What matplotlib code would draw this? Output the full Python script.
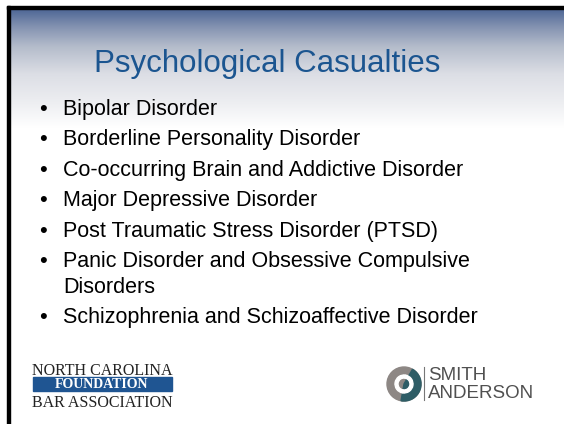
import matplotlib
matplotlib.use("Agg")
import matplotlib.pyplot as plt
import numpy as np
from matplotlib.patches import Rectangle, Wedge, Circle
from matplotlib.colors import LinearSegmentedColormap

title = "Psychological Casualties"
bullets = [
    ["Bipolar Disorder"],
    ["Borderline Personality Disorder"],
    ["Co-occurring Brain and Addictive Disorder"],
    ["Major Depressive Disorder"],
    ["Post Traumatic Stress Disorder (PTSD)"],
    ["Panic Disorder and Obsessive Compulsive", "Disorders"],
    ["Schizophrenia and Schizoaffective Disorder"],
]
nc_logo = ["NORTH CAROLINA", "FOUNDATION", "BAR ASSOCIATION"]
sa_logo = ["SMITH", "ANDERSON"]

W, H = 564, 424
fig = plt.figure(figsize=(W / 100, H / 100), dpi=100)
ax = fig.add_axes([0, 0, 1, 1])
ax.set_xlim(0, W)
ax.set_ylim(H, 0)
ax.axis("off")

# header gradient
cmap = LinearSegmentedColormap.from_list(
    "hdr", [(0, "#4a6494"), (0.15, "#8291b0"), (0.32, "#b4bccb"),
            (0.55, "#dcdee5"), (0.8, "#eeeff2"), (1, "#ffffff")])
grad = np.linspace(0, 1, 256).reshape(-1, 1)
ax.imshow(grad, cmap=cmap, extent=(9, W, 128, 8), aspect="auto", zorder=0)

# slide border (top and left)
ax.add_patch(Rectangle((7, 6), W - 7, 3, color="black", zorder=3))
ax.add_patch(Rectangle((7, 6), 3, H - 6, color="black", zorder=3))

ax.text(267.5, 72, title, fontsize=22.5, color="#1b5590", ha="center", va="baseline",
        family="Liberation Sans")

y = 115
for item in bullets:
    ax.text(43, y, "\u2022", fontsize=16, ha="center", va="baseline", family="Liberation Sans")
    for k, line in enumerate(item):
        ax.text(63, y, line, fontsize=15.5, ha="left", va="baseline", family="Liberation Sans")
        if k < len(item) - 1:
            y += 26
    y += 30.4

# North Carolina Bar Foundation logo
ax.text(102, 375, nc_logo[0], fontsize=11.5, ha="center", va="baseline", family="Liberation Serif",
        color="#222222")
ax.add_patch(Rectangle((33, 377), 139, 14, color="#1f5592", zorder=2))
ax.text(102, 388.5, nc_logo[1], fontsize=10, ha="center", va="baseline", family="Liberation Serif",
        color="white", weight="bold", zorder=3)
ax.text(102, 407, nc_logo[2], fontsize=11.5, ha="center", va="baseline", family="Liberation Serif",
        color="#222222")

# Smith Anderson logo
ax.add_patch(Circle((404, 384), 17, color="#8d8784", zorder=2))
ax.add_patch(Wedge((404, 384), 17, -60, 100, color="#2e5d66", zorder=3))
ax.add_patch(Wedge((404, 384), 9, 100, 280, width=3, color="white", zorder=4))
ax.add_patch(Wedge((404, 384), 9, -80, 100, width=3, color="white", zorder=4))
ax.plot([424, 424], [367, 400], color="#777777", lw=0.8)
ax.text(428, 380, sa_logo[0], fontsize=13.5, ha="left", va="baseline", family="Liberation Sans",
        color="#505050")
ax.text(428, 398, sa_logo[1], fontsize=13.5, ha="left", va="baseline", family="Liberation Sans",
        color="#505050")

fig.savefig("out.png", dpi=100)
